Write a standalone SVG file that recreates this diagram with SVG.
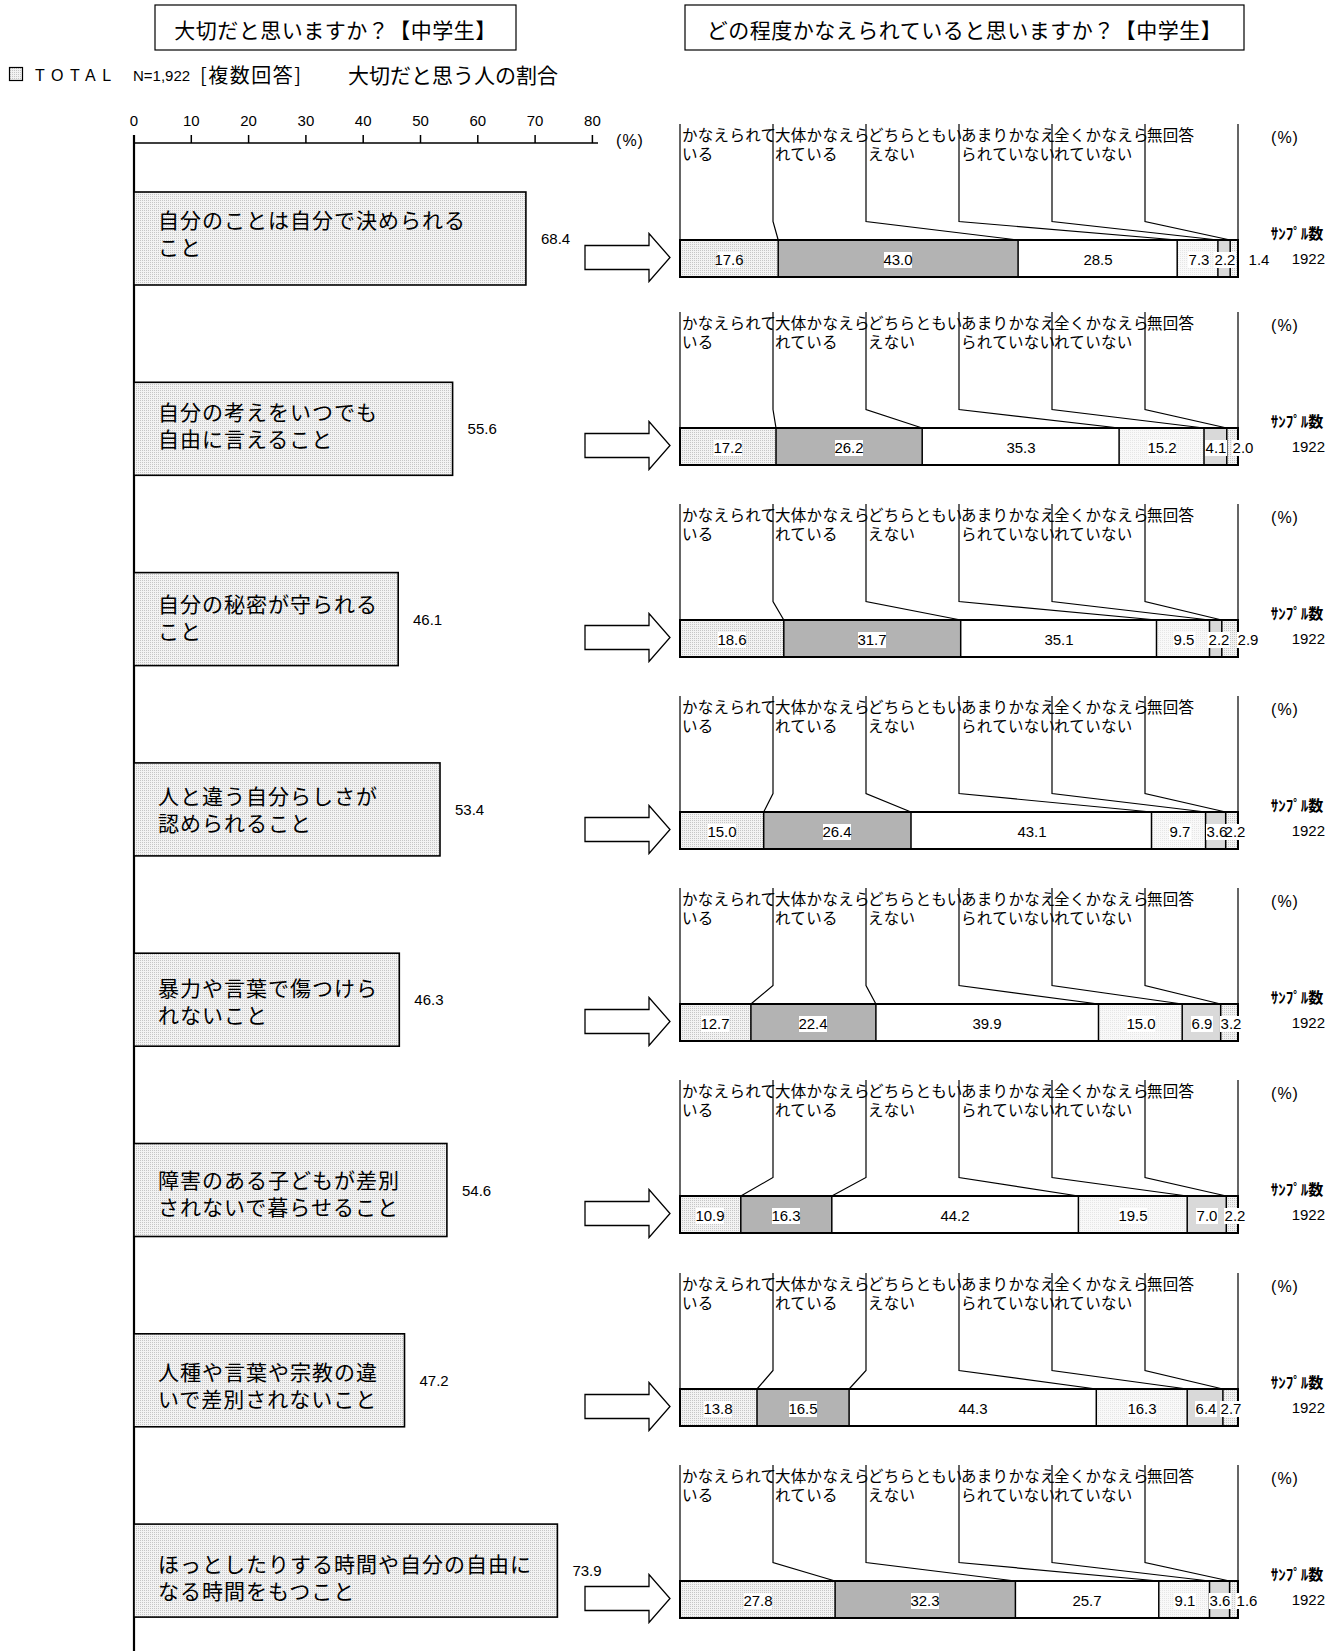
<svg xmlns="http://www.w3.org/2000/svg" width="1344" height="1651" viewBox="0 0 1344 1651">
<defs>
<pattern id="dot" width="2" height="2" patternUnits="userSpaceOnUse"><rect width="2" height="2" fill="#f3f3f3"/><rect width="1" height="1" fill="#c6c6c6"/></pattern>
<pattern id="dot2" width="2" height="2" patternUnits="userSpaceOnUse"><rect width="2" height="2" fill="#f9f9f9"/><rect width="1" height="1" fill="#e6e6e6"/></pattern>
<style>
text{dominant-baseline:central}
.cj{font-family:"Noto Sans CJK JP","Noto Sans CJK SC",sans-serif;fill:#000}
.ttl{font-size:21px;letter-spacing:0.5px;text-anchor:middle}
.lbl{font-size:21px;letter-spacing:1px}
.cat{font-size:15.5px;letter-spacing:0.3px}
.num{font-family:"Liberation Sans Narrow","Liberation Sans",Arial,sans-serif;font-size:15px;fill:#000}
.mid{text-anchor:middle}
.end{text-anchor:end}
.box{fill:#fff;stroke:#000;stroke-width:1.2}
.bar{fill:url(#dot);stroke:#000;stroke-width:1.6}
.bx{fill:#fff}
.s1{fill:url(#dot)}.s2{fill:#b3b3b3}.s3{fill:#fff}.s4{fill:url(#dot2)}.s5{fill:#d9d9d9}.s6{fill:url(#dot)}
.lead{fill:none;stroke:#000;stroke-width:1.2}
.div{fill:none;stroke:#000;stroke-width:1.5}
.out{fill:none;stroke:#000;stroke-width:2}
.arr{fill:#fff;stroke:#000;stroke-width:1.3;stroke-linejoin:miter}
.ax{fill:none;stroke:#000;stroke-width:1.5}
.smp{font-size:15px;font-weight:bold;text-anchor:middle}
.pct{font-size:16px;letter-spacing:1px}
</style>
</defs>
<rect width="1344" height="1651" fill="#fff"/>

<g id="title-left">
<rect class="box" x="155" y="5" width="361" height="45"/>
<text class="cj ttl" x="335.5" y="29">大切だと思いますか？【中学生】</text>
</g>
<g id="title-right">
<rect class="box" x="685" y="5" width="559" height="45"/>
<text class="cj ttl" x="964.5" y="29">どの程度かなえられていると思いますか？【中学生】</text>
</g>

<g id="legend">
<rect x="9.5" y="67.5" width="13" height="13" fill="url(#dot)" stroke="#000" stroke-width="1.2"/>
<text x="35" y="75" style="font-family:'Liberation Sans',Arial,sans-serif;font-size:16px;letter-spacing:6.5px">TOTAL</text>
<text class="num" x="133" y="75">N=1,922</text>
<text class="cj" x="200" y="74" style="font-size:20px;letter-spacing:1.5px">[複数回答]</text>
<text class="cj" x="348" y="74" style="font-size:21px">大切だと思う人の割合</text>
</g>

<g id="axis">
<path class="ax" d="M134 143 H598 M134 135 V143 M191.3 135 V143 M248.6 135 V143 M305.9 135 V143 M363.2 135 V143 M420.5 135 V143 M477.8 135 V143 M535.1 135 V143 M592.4 135 V143"/>
<path d="M134 135 V1651" fill="none" stroke="#000" stroke-width="2.2"/>
<g class="num">
<text class="mid" x="134" y="120">0</text>
<text class="mid" x="191.3" y="120">10</text>
<text class="mid" x="248.6" y="120">20</text>
<text class="mid" x="305.9" y="120">30</text>
<text class="mid" x="363.2" y="120">40</text>
<text class="mid" x="420.5" y="120">50</text>
<text class="mid" x="477.8" y="120">60</text>
<text class="mid" x="535.1" y="120">70</text>
<text class="mid" x="592.4" y="120">80</text>
<text class="mid pct" x="630" y="140">(%)</text>
</g>
</g>

<g id="bar-1"><rect class="bar" x="134" y="192" width="391.9" height="93"/>
<text class="cj lbl" x="158" y="219">自分のことは自分で決められる</text>
<text class="cj lbl" x="158" y="246">こと</text>
<text class="num" x="541" y="238.5">68.4</text></g>
<g id="bar-2"><rect class="bar" x="134" y="382.3" width="318.6" height="93"/>
<text class="cj lbl" x="158" y="411">自分の考えをいつでも</text>
<text class="cj lbl" x="158" y="438">自由に言えること</text>
<text class="num" x="467.6" y="428.8">55.6</text></g>
<g id="bar-3"><rect class="bar" x="134" y="572.6" width="264.2" height="93"/>
<text class="cj lbl" x="158" y="603">自分の秘密が守られる</text>
<text class="cj lbl" x="158" y="630">こと</text>
<text class="num" x="413" y="619.1">46.1</text></g>
<g id="bar-4"><rect class="bar" x="134" y="762.9" width="306" height="93"/>
<text class="cj lbl" x="158" y="795">人と違う自分らしさが</text>
<text class="cj lbl" x="158" y="822">認められること</text>
<text class="num" x="455" y="809.4">53.4</text></g>
<g id="bar-5"><rect class="bar" x="134" y="953.2" width="265.3" height="93"/>
<text class="cj lbl" x="158" y="987">暴力や言葉で傷つけら</text>
<text class="cj lbl" x="158" y="1014">れないこと</text>
<text class="num" x="414.3" y="999.7">46.3</text></g>
<g id="bar-6"><rect class="bar" x="134" y="1143.5" width="312.9" height="93"/>
<text class="cj lbl" x="158" y="1179">障害のある子どもが差別</text>
<text class="cj lbl" x="158" y="1206">されないで暮らせること</text>
<text class="num" x="462" y="1190">54.6</text></g>
<g id="bar-7"><rect class="bar" x="134" y="1333.8" width="270.5" height="93"/>
<text class="cj lbl" x="158" y="1371">人種や言葉や宗教の違</text>
<text class="cj lbl" x="158" y="1398">いで差別されないこと</text>
<text class="num" x="419.5" y="1380.3">47.2</text></g>
<g id="bar-8"><rect class="bar" x="134" y="1524.1" width="423.4" height="93"/>
<text class="cj lbl" x="158" y="1563">ほっとしたりする時間や自分の自由に</text>
<text class="cj lbl" x="158" y="1590">なる時間をもつこと</text>
<text class="num" x="572.4" y="1570.6">73.9</text></g>

<g id="connectors">
<polygon class="arr" points="585,245.5 649,245.5 649,233.5 670,257.5 649,281.5 649,269.5 585,269.5"/>
<polygon class="arr" points="585,433.5 649,433.5 649,421.5 670,445.5 649,469.5 649,457.5 585,457.5"/>
<polygon class="arr" points="585,625.5 649,625.5 649,613.5 670,637.5 649,661.5 649,649.5 585,649.5"/>
<polygon class="arr" points="585,817.5 649,817.5 649,805.5 670,829.5 649,853.5 649,841.5 585,841.5"/>
<polygon class="arr" points="585,1009.5 649,1009.5 649,997.5 670,1021.5 649,1045.5 649,1033.5 585,1033.5"/>
<polygon class="arr" points="585,1201.5 649,1201.5 649,1189.5 670,1213.5 649,1237.5 649,1225.5 585,1225.5"/>
<polygon class="arr" points="585,1394.5 649,1394.5 649,1382.5 670,1406.5 649,1430.5 649,1418.5 585,1418.5"/>
<polygon class="arr" points="585,1586.5 649,1586.5 649,1574.5 670,1598.5 649,1622.5 649,1610.5 585,1610.5"/>
</g>

<g id="panel-1">
<rect class="s1" x="680" y="240" width="98.2" height="37"/><rect class="s2" x="778.2" y="240" width="239.9" height="37"/><rect class="s3" x="1018.1" y="240" width="159.1" height="37"/><rect class="s4" x="1177.2" y="240" width="40.7" height="37"/><rect class="s5" x="1217.9" y="240" width="12.3" height="37"/><rect class="s6" x="1230.2" y="240" width="7.8" height="37"/>
<path class="div" d="M778.2 240 V277 M1018.1 240 V277 M1177.2 240 V277 M1217.9 240 V277 M1230.2 240 V277"/>
<rect class="out" x="680" y="240" width="558" height="37"/>
<path class="lead" d="M680 124 V240 M1238 124 V240 M773 124 V221.5 L778.2 240 M866 124 V221.5 L1018.1 240 M959 124 V221.5 L1177.2 240 M1052 124 V221.5 L1217.9 240 M1145 124 V221.5 L1230.2 240"/>
<g class="cj cat">
<text x="682" y="134">かなえられて</text><text x="682" y="153">いる</text>
<text x="775" y="134">大体かなえら</text><text x="775" y="153">れている</text>
<text x="868" y="134">どちらともい</text><text x="868" y="153">えない</text>
<text x="961" y="134">あまりかなえ</text><text x="961" y="153">られていない</text>
<text x="1054" y="134">全くかなえら</text><text x="1054" y="153">れていない</text>
<text x="1147" y="134">無回答</text>
</g>
<rect class="bx" x="718" y="252" width="22" height="16"/><rect class="bx" x="884" y="252" width="28" height="16"/><rect class="bx" x="1084" y="252" width="28" height="16"/><rect class="bx" x="1188" y="252" width="22" height="16"/><rect class="bx" x="1214" y="252" width="22" height="16"/>
<g class="num mid">
<text x="729" y="259.5">17.6</text><text x="898" y="259.5">43.0</text><text x="1098" y="259.5">28.5</text><text x="1199" y="259.5">7.3</text><text x="1225" y="259.5">2.2</text><text x="1259" y="259.5">1.4</text>
<text class="pct" x="1285" y="137">(%)</text>
</g>
<text class="cj smp" x="1297" y="232">ｻﾝﾌﾟﾙ数</text>
<text class="num end" x="1325" y="258">1922</text>
</g>

<g id="panel-2">
<rect class="s1" x="680" y="428" width="96" height="37"/><rect class="s2" x="776" y="428" width="146.2" height="37"/><rect class="s3" x="922.2" y="428" width="196.9" height="37"/><rect class="s4" x="1119.1" y="428" width="84.9" height="37"/><rect class="s5" x="1204" y="428" width="22.8" height="37"/><rect class="s6" x="1226.8" y="428" width="11.2" height="37"/>
<path class="div" d="M776 428 V465 M922.2 428 V465 M1119.1 428 V465 M1204 428 V465 M1226.8 428 V465"/>
<rect class="out" x="680" y="428" width="558" height="37"/>
<path class="lead" d="M680 312 V428 M1238 312 V428 M773 312 V409.5 L776 428 M866 312 V409.5 L922.2 428 M959 312 V409.5 L1119.1 428 M1052 312 V409.5 L1204 428 M1145 312 V409.5 L1226.8 428"/>
<g class="cj cat">
<text x="682" y="322">かなえられて</text><text x="682" y="341">いる</text>
<text x="775" y="322">大体かなえら</text><text x="775" y="341">れている</text>
<text x="868" y="322">どちらともい</text><text x="868" y="341">えない</text>
<text x="961" y="322">あまりかなえ</text><text x="961" y="341">られていない</text>
<text x="1054" y="322">全くかなえら</text><text x="1054" y="341">れていない</text>
<text x="1147" y="322">無回答</text>
</g>
<rect class="bx" x="714" y="440" width="28" height="16"/><rect class="bx" x="835" y="440" width="28" height="16"/><rect class="bx" x="1007" y="440" width="28" height="16"/><rect class="bx" x="1148" y="440" width="28" height="16"/><rect class="bx" x="1205" y="440" width="22" height="16"/><rect class="bx" x="1232" y="440" width="22" height="16"/>
<g class="num mid">
<text x="728" y="447.5">17.2</text><text x="849" y="447.5">26.2</text><text x="1021" y="447.5">35.3</text><text x="1162" y="447.5">15.2</text><text x="1216" y="447.5">4.1</text><text x="1243" y="447.5">2.0</text>
<text class="pct" x="1285" y="325">(%)</text>
</g>
<text class="cj smp" x="1297" y="420">ｻﾝﾌﾟﾙ数</text>
<text class="num end" x="1325" y="446">1922</text>
</g>

<g id="panel-3">
<rect class="s1" x="680" y="620" width="103.8" height="37"/><rect class="s2" x="783.8" y="620" width="176.9" height="37"/><rect class="s3" x="960.7" y="620" width="195.8" height="37"/><rect class="s4" x="1156.5" y="620" width="53" height="37"/><rect class="s5" x="1209.5" y="620" width="12.3" height="37"/><rect class="s6" x="1221.8" y="620" width="16.2" height="37"/>
<path class="div" d="M783.8 620 V657 M960.7 620 V657 M1156.5 620 V657 M1209.5 620 V657 M1221.8 620 V657"/>
<rect class="out" x="680" y="620" width="558" height="37"/>
<path class="lead" d="M680 504 V620 M1238 504 V620 M773 504 V601.5 L783.8 620 M866 504 V601.5 L960.7 620 M959 504 V601.5 L1156.5 620 M1052 504 V601.5 L1209.5 620 M1145 504 V601.5 L1221.8 620"/>
<g class="cj cat">
<text x="682" y="514">かなえられて</text><text x="682" y="533">いる</text>
<text x="775" y="514">大体かなえら</text><text x="775" y="533">れている</text>
<text x="868" y="514">どちらともい</text><text x="868" y="533">えない</text>
<text x="961" y="514">あまりかなえ</text><text x="961" y="533">られていない</text>
<text x="1054" y="514">全くかなえら</text><text x="1054" y="533">れていない</text>
<text x="1147" y="514">無回答</text>
</g>
<rect class="bx" x="718" y="632" width="28" height="16"/><rect class="bx" x="858" y="632" width="28" height="16"/><rect class="bx" x="1045" y="632" width="28" height="16"/><rect class="bx" x="1173" y="632" width="22" height="16"/><rect class="bx" x="1208" y="632" width="22" height="16"/><rect class="bx" x="1237" y="632" width="22" height="16"/>
<g class="num mid">
<text x="732" y="639.5">18.6</text><text x="872" y="639.5">31.7</text><text x="1059" y="639.5">35.1</text><text x="1184" y="639.5">9.5</text><text x="1219" y="639.5">2.2</text><text x="1248" y="639.5">2.9</text>
<text class="pct" x="1285" y="517">(%)</text>
</g>
<text class="cj smp" x="1297" y="612">ｻﾝﾌﾟﾙ数</text>
<text class="num end" x="1325" y="638">1922</text>
</g>

<g id="panel-4">
<rect class="s1" x="680" y="812" width="83.7" height="37"/><rect class="s2" x="763.7" y="812" width="147.3" height="37"/><rect class="s3" x="911" y="812" width="240.5" height="37"/><rect class="s4" x="1151.5" y="812" width="54.1" height="37"/><rect class="s5" x="1205.6" y="812" width="20.1" height="37"/><rect class="s6" x="1225.7" y="812" width="12.3" height="37"/>
<path class="div" d="M763.7 812 V849 M911 812 V849 M1151.5 812 V849 M1205.6 812 V849 M1225.7 812 V849"/>
<rect class="out" x="680" y="812" width="558" height="37"/>
<path class="lead" d="M680 696 V812 M1238 696 V812 M773 696 V793.5 L763.7 812 M866 696 V793.5 L911 812 M959 696 V793.5 L1151.5 812 M1052 696 V793.5 L1205.6 812 M1145 696 V793.5 L1225.7 812"/>
<g class="cj cat">
<text x="682" y="706">かなえられて</text><text x="682" y="725">いる</text>
<text x="775" y="706">大体かなえら</text><text x="775" y="725">れている</text>
<text x="868" y="706">どちらともい</text><text x="868" y="725">えない</text>
<text x="961" y="706">あまりかなえ</text><text x="961" y="725">られていない</text>
<text x="1054" y="706">全くかなえら</text><text x="1054" y="725">れていない</text>
<text x="1147" y="706">無回答</text>
</g>
<rect class="bx" x="708" y="824" width="28" height="16"/><rect class="bx" x="823" y="824" width="28" height="16"/><rect class="bx" x="1018" y="824" width="28" height="16"/><rect class="bx" x="1169" y="824" width="22" height="16"/><rect class="bx" x="1206" y="824" width="22" height="16"/><rect class="bx" x="1224" y="824" width="22" height="16"/>
<g class="num mid">
<text x="722" y="831.5">15.0</text><text x="837" y="831.5">26.4</text><text x="1032" y="831.5">43.1</text><text x="1180" y="831.5">9.7</text><text x="1217" y="831.5">3.6</text><text x="1235" y="831.5">2.2</text>
<text class="pct" x="1285" y="709">(%)</text>
</g>
<text class="cj smp" x="1297" y="804">ｻﾝﾌﾟﾙ数</text>
<text class="num end" x="1325" y="830">1922</text>
</g>

<g id="panel-5">
<rect class="s1" x="680" y="1004" width="70.9" height="37"/><rect class="s2" x="750.9" y="1004" width="125" height="37"/><rect class="s3" x="875.9" y="1004" width="222.6" height="37"/><rect class="s4" x="1098.5" y="1004" width="83.7" height="37"/><rect class="s5" x="1182.2" y="1004" width="38.5" height="37"/><rect class="s6" x="1220.7" y="1004" width="17.3" height="37"/>
<path class="div" d="M750.9 1004 V1041 M875.9 1004 V1041 M1098.5 1004 V1041 M1182.2 1004 V1041 M1220.7 1004 V1041"/>
<rect class="out" x="680" y="1004" width="558" height="37"/>
<path class="lead" d="M680 888 V1004 M1238 888 V1004 M773 888 V985.5 L750.9 1004 M866 888 V985.5 L875.9 1004 M959 888 V985.5 L1098.5 1004 M1052 888 V985.5 L1182.2 1004 M1145 888 V985.5 L1220.7 1004"/>
<g class="cj cat">
<text x="682" y="898">かなえられて</text><text x="682" y="917">いる</text>
<text x="775" y="898">大体かなえら</text><text x="775" y="917">れている</text>
<text x="868" y="898">どちらともい</text><text x="868" y="917">えない</text>
<text x="961" y="898">あまりかなえ</text><text x="961" y="917">られていない</text>
<text x="1054" y="898">全くかなえら</text><text x="1054" y="917">れていない</text>
<text x="1147" y="898">無回答</text>
</g>
<rect class="bx" x="701" y="1016" width="28" height="16"/><rect class="bx" x="799" y="1016" width="28" height="16"/><rect class="bx" x="973" y="1016" width="28" height="16"/><rect class="bx" x="1127" y="1016" width="28" height="16"/><rect class="bx" x="1191" y="1016" width="22" height="16"/><rect class="bx" x="1220" y="1016" width="22" height="16"/>
<g class="num mid">
<text x="715" y="1023.5">12.7</text><text x="813" y="1023.5">22.4</text><text x="987" y="1023.5">39.9</text><text x="1141" y="1023.5">15.0</text><text x="1202" y="1023.5">6.9</text><text x="1231" y="1023.5">3.2</text>
<text class="pct" x="1285" y="901">(%)</text>
</g>
<text class="cj smp" x="1297" y="996">ｻﾝﾌﾟﾙ数</text>
<text class="num end" x="1325" y="1022">1922</text>
</g>

<g id="panel-6">
<rect class="s1" x="680" y="1196" width="60.8" height="37"/><rect class="s2" x="740.8" y="1196" width="91" height="37"/><rect class="s3" x="831.8" y="1196" width="246.6" height="37"/><rect class="s4" x="1078.4" y="1196" width="108.8" height="37"/><rect class="s5" x="1187.2" y="1196" width="39.1" height="37"/><rect class="s6" x="1226.3" y="1196" width="11.7" height="37"/>
<path class="div" d="M740.8 1196 V1233 M831.8 1196 V1233 M1078.4 1196 V1233 M1187.2 1196 V1233 M1226.3 1196 V1233"/>
<rect class="out" x="680" y="1196" width="558" height="37"/>
<path class="lead" d="M680 1080 V1196 M1238 1080 V1196 M773 1080 V1177.5 L740.8 1196 M866 1080 V1177.5 L831.8 1196 M959 1080 V1177.5 L1078.4 1196 M1052 1080 V1177.5 L1187.2 1196 M1145 1080 V1177.5 L1226.3 1196"/>
<g class="cj cat">
<text x="682" y="1090">かなえられて</text><text x="682" y="1109">いる</text>
<text x="775" y="1090">大体かなえら</text><text x="775" y="1109">れている</text>
<text x="868" y="1090">どちらともい</text><text x="868" y="1109">えない</text>
<text x="961" y="1090">あまりかなえ</text><text x="961" y="1109">られていない</text>
<text x="1054" y="1090">全くかなえら</text><text x="1054" y="1109">れていない</text>
<text x="1147" y="1090">無回答</text>
</g>
<rect class="bx" x="696" y="1208" width="28" height="16"/><rect class="bx" x="772" y="1208" width="28" height="16"/><rect class="bx" x="941" y="1208" width="28" height="16"/><rect class="bx" x="1119" y="1208" width="28" height="16"/><rect class="bx" x="1196" y="1208" width="22" height="16"/><rect class="bx" x="1224" y="1208" width="22" height="16"/>
<g class="num mid">
<text x="710" y="1215.5">10.9</text><text x="786" y="1215.5">16.3</text><text x="955" y="1215.5">44.2</text><text x="1133" y="1215.5">19.5</text><text x="1207" y="1215.5">7.0</text><text x="1235" y="1215.5">2.2</text>
<text class="pct" x="1285" y="1093">(%)</text>
</g>
<text class="cj smp" x="1297" y="1188">ｻﾝﾌﾟﾙ数</text>
<text class="num end" x="1325" y="1214">1922</text>
</g>

<g id="panel-7">
<rect class="s1" x="680" y="1389" width="77" height="37"/><rect class="s2" x="757" y="1389" width="92.1" height="37"/><rect class="s3" x="849.1" y="1389" width="247.2" height="37"/><rect class="s4" x="1096.3" y="1389" width="90.9" height="37"/><rect class="s5" x="1187.2" y="1389" width="35.7" height="37"/><rect class="s6" x="1222.9" y="1389" width="15.1" height="37"/>
<path class="div" d="M757 1389 V1426 M849.1 1389 V1426 M1096.3 1389 V1426 M1187.2 1389 V1426 M1222.9 1389 V1426"/>
<rect class="out" x="680" y="1389" width="558" height="37"/>
<path class="lead" d="M680 1273 V1389 M1238 1273 V1389 M773 1273 V1370.5 L757 1389 M866 1273 V1370.5 L849.1 1389 M959 1273 V1370.5 L1096.3 1389 M1052 1273 V1370.5 L1187.2 1389 M1145 1273 V1370.5 L1222.9 1389"/>
<g class="cj cat">
<text x="682" y="1283">かなえられて</text><text x="682" y="1302">いる</text>
<text x="775" y="1283">大体かなえら</text><text x="775" y="1302">れている</text>
<text x="868" y="1283">どちらともい</text><text x="868" y="1302">えない</text>
<text x="961" y="1283">あまりかなえ</text><text x="961" y="1302">られていない</text>
<text x="1054" y="1283">全くかなえら</text><text x="1054" y="1302">れていない</text>
<text x="1147" y="1283">無回答</text>
</g>
<rect class="bx" x="704" y="1401" width="28" height="16"/><rect class="bx" x="789" y="1401" width="28" height="16"/><rect class="bx" x="959" y="1401" width="28" height="16"/><rect class="bx" x="1128" y="1401" width="28" height="16"/><rect class="bx" x="1195" y="1401" width="22" height="16"/><rect class="bx" x="1220" y="1401" width="22" height="16"/>
<g class="num mid">
<text x="718" y="1408.5">13.8</text><text x="803" y="1408.5">16.5</text><text x="973" y="1408.5">44.3</text><text x="1142" y="1408.5">16.3</text><text x="1206" y="1408.5">6.4</text><text x="1231" y="1408.5">2.7</text>
<text class="pct" x="1285" y="1286">(%)</text>
</g>
<text class="cj smp" x="1297" y="1381">ｻﾝﾌﾟﾙ数</text>
<text class="num end" x="1325" y="1407">1922</text>
</g>

<g id="panel-8">
<rect class="s1" x="680" y="1581" width="155.1" height="37"/><rect class="s2" x="835.1" y="1581" width="180.3" height="37"/><rect class="s3" x="1015.4" y="1581" width="143.4" height="37"/><rect class="s4" x="1158.8" y="1581" width="50.7" height="37"/><rect class="s5" x="1209.5" y="1581" width="20.1" height="37"/><rect class="s6" x="1229.6" y="1581" width="8.4" height="37"/>
<path class="div" d="M835.1 1581 V1618 M1015.4 1581 V1618 M1158.8 1581 V1618 M1209.5 1581 V1618 M1229.6 1581 V1618"/>
<rect class="out" x="680" y="1581" width="558" height="37"/>
<path class="lead" d="M680 1465 V1581 M1238 1465 V1581 M773 1465 V1562.5 L835.1 1581 M866 1465 V1562.5 L1015.4 1581 M959 1465 V1562.5 L1158.8 1581 M1052 1465 V1562.5 L1209.5 1581 M1145 1465 V1562.5 L1229.6 1581"/>
<g class="cj cat">
<text x="682" y="1475">かなえられて</text><text x="682" y="1494">いる</text>
<text x="775" y="1475">大体かなえら</text><text x="775" y="1494">れている</text>
<text x="868" y="1475">どちらともい</text><text x="868" y="1494">えない</text>
<text x="961" y="1475">あまりかなえ</text><text x="961" y="1494">られていない</text>
<text x="1054" y="1475">全くかなえら</text><text x="1054" y="1494">れていない</text>
<text x="1147" y="1475">無回答</text>
</g>
<rect class="bx" x="744" y="1593" width="28" height="16"/><rect class="bx" x="911" y="1593" width="28" height="16"/><rect class="bx" x="1073" y="1593" width="28" height="16"/><rect class="bx" x="1174" y="1593" width="22" height="16"/><rect class="bx" x="1209" y="1593" width="22" height="16"/><rect class="bx" x="1236" y="1593" width="22" height="16"/>
<g class="num mid">
<text x="758" y="1600.5">27.8</text><text x="925" y="1600.5">32.3</text><text x="1087" y="1600.5">25.7</text><text x="1185" y="1600.5">9.1</text><text x="1220" y="1600.5">3.6</text><text x="1247" y="1600.5">1.6</text>
<text class="pct" x="1285" y="1478">(%)</text>
</g>
<text class="cj smp" x="1297" y="1573">ｻﾝﾌﾟﾙ数</text>
<text class="num end" x="1325" y="1599">1922</text>
</g>
</svg>
